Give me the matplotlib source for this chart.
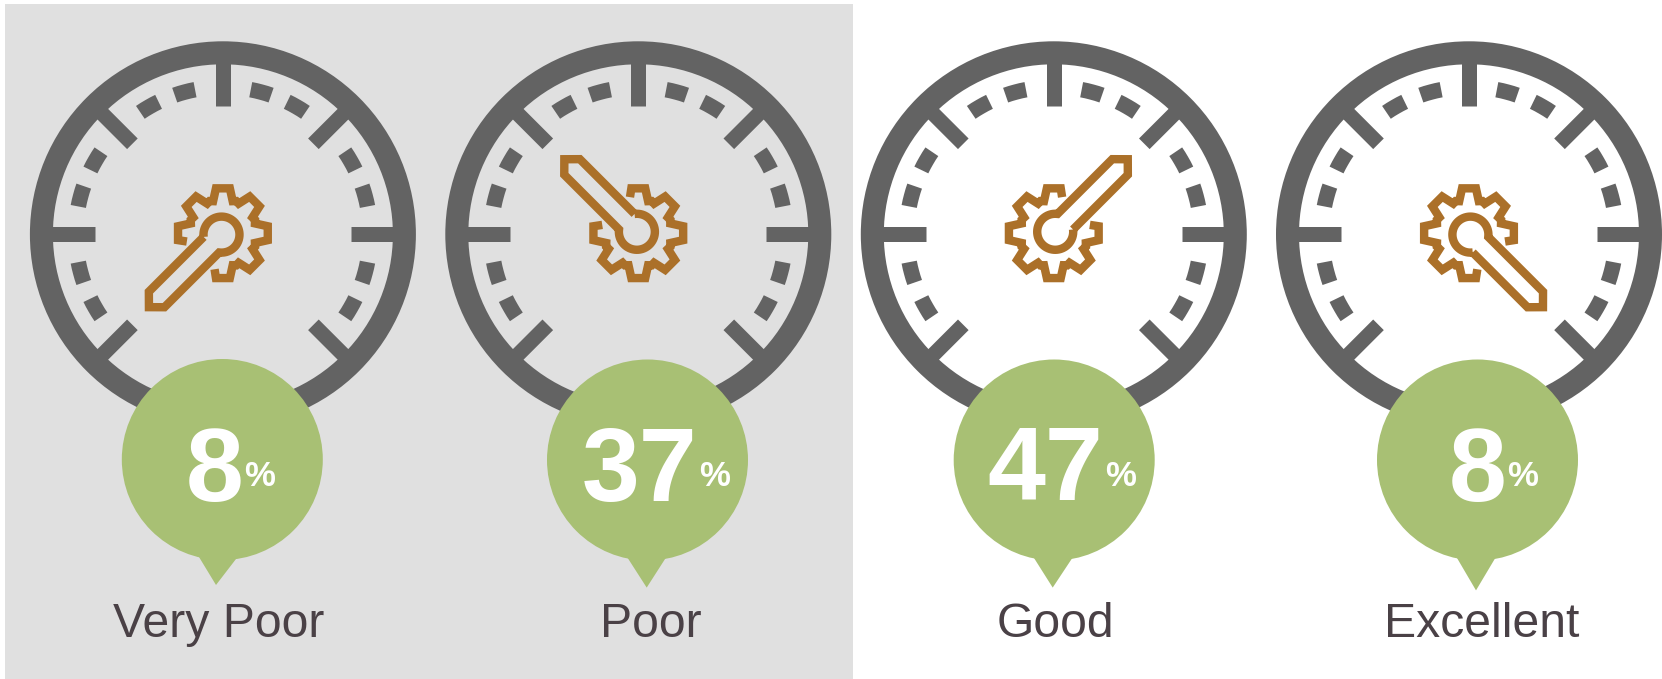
import numpy as np
import matplotlib
matplotlib.use("Agg")
import matplotlib.pyplot as plt
from matplotlib.patches import Circle, Wedge, Polygon, Rectangle

# values
labels = ["Very Poor", "Poor", "Good", "Excellent"]
percents = ["8", "37", "47", "8"]
needle_angles = [225, 315, 45, 135]

gauge_x = [222.9, 638.3, 1053.8, 1469.0]
gauge_y = 234.3
bubble_x = [222.3, 647.5, 1054.2, 1477.5]
bubble_y = [459.5, 460, 460, 460]
tail_tip = [(216, 585), (646.7, 587.6), (1052.7, 587.6), (1476, 590.4)]
tail_left = [(199, 557), (627.7, 558), (1034, 558), (1457, 558)]
tail_right = [(236, 559), (665.7, 558), (1072.3, 558), (1495.3, 558)]
number_x = [214.8, 639.8, 1045.3, 1477.2]
pct_x = [259.2, 714.2, 1121, 1522.4]
label_x = [218.7, 650.5, 1055, 1482]

major_ticks = [0, 45, 90, 135, 225, 270, 315]
minor_ticks = [15, 30, 60, 75, 105, 120, 240, 255, 285, 300, 330, 345]

GREY = "#636363"
GREEN = "#A8C074"
BROWN = "#AB7029"
TEXT = "#4A4146"
PANEL = "#E0E0E0"

plt.rcParams["font.family"] = ["Liberation Sans", "DejaVu Sans"]
px = 0.72  # one pixel in points at dpi 100

fig = plt.figure(figsize=(16.62, 6.79), dpi=100)
ax = fig.add_axes([0, 0, 1, 1])
ax.set_xlim(0, 1662)
ax.set_ylim(679, 0)
ax.axis("off")

ax.add_patch(Rectangle((5, 4), 848, 675, fc=PANEL, ec="none", zorder=0))


def polar(cx, cy, r, a):
    a = np.radians(a)
    return cx + r * np.sin(a), cy - r * np.cos(a)


def draw_wrench(cx, cy, angle):
    lw = 8.4 * px
    # gear outline, open where the handle passes through
    pts = []
    for off in range(45, 360, 45):
        a = angle + off
        if off == 45:
            pts.append(polar(cx, cy, 37, a - 13))
        else:
            pts.append(polar(cx, cy, 33.5, a - 17))
        pts.append(polar(cx, cy, 45.4, a - 8.8))
        pts.append(polar(cx, cy, 45.4, a + 8.8))
        if off == 315:
            pts.append(polar(cx, cy, 37, a + 13))
        else:
            pts.append(polar(cx, cy, 33.5, a + 17))
            pts.append(polar(cx, cy, 34.8, a + 22.5))
    gx, gy = zip(*pts)
    ax.plot(gx, gy, color=BROWN, lw=lw, solid_joinstyle="miter", solid_capstyle="butt", zorder=3)

    # wrench head and handle
    hx, hy = polar(cx, cy, 2, angle)
    half = 11.0
    op = np.degrees(np.arcsin(half / 18))
    arc = np.linspace(angle + op, angle + 360 - op, 60)
    pts = [polar(hx, hy, 18, a) for a in arc]
    for along, perp in [(91.7, -half), (102.6, 0), (91.7, half)]:
        r = np.hypot(along, perp)
        pts.append(polar(hx, hy, r, angle + np.degrees(np.arctan2(perp, along))))
    pts.append(pts[0])
    wx, wy = zip(*pts)
    ax.plot(wx, wy, color=BROWN, lw=lw, solid_joinstyle="miter", solid_capstyle="butt", zorder=3)


for i in range(4):
    cx = gauge_x[i]
    cy = gauge_y
    ax.add_patch(Circle((cx, cy), 181.5, fc="none", ec=GREY, lw=23 * px, zorder=1))
    for a in major_ticks:
        p1 = polar(cx, cy, 128, a)
        p2 = polar(cx, cy, 175, a)
        ax.plot([p1[0], p2[0]], [p1[1], p2[1]], color=GREY, lw=15 * px, solid_capstyle="butt", zorder=1)
    for a in minor_ticks:
        ax.add_patch(Wedge((cx, cy), 155, a - 90 - 4.1, a - 90 + 4.1, width=15.5, fc=GREY, ec="none", zorder=1))

    draw_wrench(cx, 233.2, needle_angles[i])

    ax.add_patch(Circle((bubble_x[i], bubble_y[i]), 100.5, fc=GREEN, ec="none", zorder=4))
    ax.add_patch(Polygon([tail_left[i], tail_tip[i], tail_right[i]], fc=GREEN, ec="none", zorder=4))

    ax.text(number_x[i], 500.5, percents[i], color="white", fontsize=75, fontweight="bold",
            ha="center", va="baseline", zorder=5)
    ax.text(pct_x[i], 486, "%", color="white", fontsize=25, fontweight="bold",
            ha="center", va="baseline", zorder=5)
    ax.text(label_x[i], 637, labels[i], color=TEXT, fontsize=34.7,
            ha="center", va="baseline", zorder=5)

fig.savefig("out.png", dpi=100)
